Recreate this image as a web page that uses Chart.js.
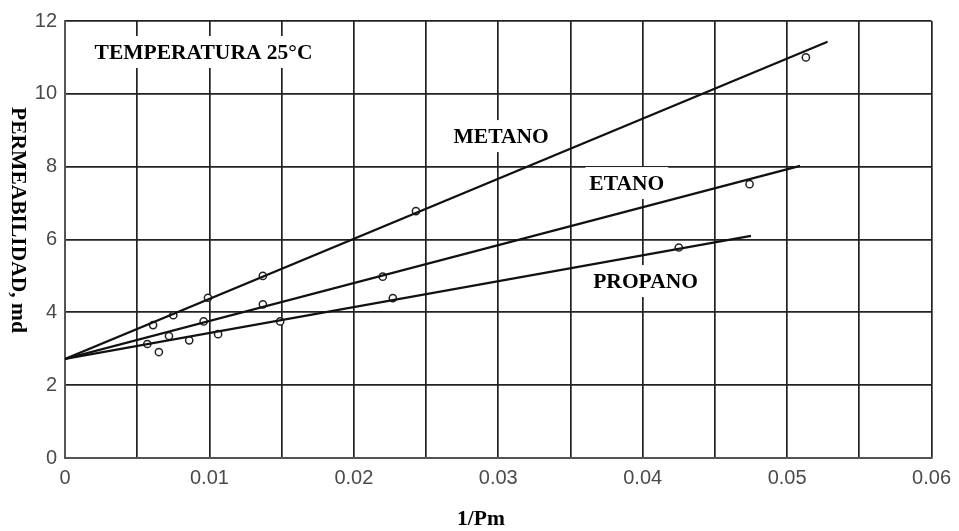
<!DOCTYPE html>
<html>
<head>
<meta charset="utf-8">
<script src="https://cdn.jsdelivr.net/npm/chart.js@4/dist/chart.umd.min.js"></script>
<style>
  html, body { margin: 0; padding: 0; background: #fff; }
  #box { width: 959px; height: 531px; }
</style>
</head>
<body>
<div id="box"><canvas id="grafico"></canvas></div>
<script>
// Puntos medidos (1/Pm, permeabilidad en md)
const metanoX = [0.0061, 0.0075, 0.0099, 0.0137, 0.0243, 0.0513];
const metanoY = [3.65, 3.92, 4.4, 5.0, 6.78, 11.0];
const etanoX = [0.0072, 0.0096, 0.0137, 0.022, 0.0474];
const etanoY = [3.35, 3.75, 4.22, 4.98, 7.52];
const propanoX = [0.0057, 0.0065, 0.0086, 0.0106, 0.0149, 0.0227, 0.0425];
const propanoY = [3.13, 2.91, 3.23, 3.4, 3.75, 4.39, 5.78];

// Rectas ajustadas (extremos)
const metanoRectaX = [0, 0.0528];
const metanoRectaY = [2.72, 11.43];
const etanoRectaX = [0, 0.0509];
const etanoRectaY = [2.72, 8.02];
const propanoRectaX = [0, 0.0475];
const propanoRectaY = [2.72, 6.1];

// Etiquetas dentro del grafico
const etiquetas = [
    { texto: 'TEMPERATURA 25°C', x: 0.00205, y: 11.15, alinear: 'left' },
    { texto: 'METANO', x: 0.0302, y: 8.84, alinear: 'center' },
    { texto: 'ETANO', x: 0.0389, y: 7.55, alinear: 'center' },
    { texto: 'PROPANO', x: 0.0402, y: 4.86, alinear: 'center' }
];

function pares(xs, ys) {
    return xs.map((x, i) => ({ x: x, y: ys[i] }));
}

function recta(xs, ys) {
    return {
        type: 'line',
        data: pares(xs, ys),
        borderColor: '#111',
        borderWidth: 2.3,
        pointRadius: 0,
        fill: false
    };
}

function puntos(xs, ys) {
    return {
        type: 'scatter',
        data: pares(xs, ys),
        borderColor: '#222',
        backgroundColor: '#fff',
        borderWidth: 1.5,
        pointRadius: 3.6
    };
}

const fuenteSerif = 'bold 21.5px "Liberation Serif", "Times New Roman", serif';

// Plugin para los textos
const textosPlugin = {
    id: 'textos',
    beforeDatasetsDraw(chart) {
        const ctx = chart.ctx;
        const sx = chart.scales.x;
        const sy = chart.scales.y;
        ctx.save();
        ctx.font = fuenteSerif;
        ctx.textBaseline = 'middle';
        etiquetas.forEach(e => {
            const px = sx.getPixelForValue(e.x);
            const py = sy.getPixelForValue(e.y);
            const w = ctx.measureText(e.texto).width;
            const x0 = e.alinear === 'left' ? px : px - w / 2;
            ctx.fillStyle = '#fff';
            ctx.fillRect(x0 - 4, py - 16, w + 8, 32);
            ctx.fillStyle = '#000';
            ctx.textAlign = e.alinear;
            ctx.fillText(e.texto, px, py + 1);
        });
        ctx.restore();
    },
    afterDraw(chart) {
        const ctx = chart.ctx;
        ctx.save();
        ctx.font = fuenteSerif;
        ctx.fillStyle = '#000';
        ctx.textAlign = 'center';
        ctx.textBaseline = 'middle';
        ctx.fillText('1/Pm', 481, 519);
        ctx.translate(18, 220);
        ctx.rotate(Math.PI / 2);
        ctx.fillText('PERMEABILIDAD, md', 0, 0);
        ctx.restore();
    }
};

const ctxGrafico = document.getElementById('grafico').getContext('2d');
new Chart(ctxGrafico, {
    data: {
        datasets: [
            recta(metanoRectaX, metanoRectaY),
            recta(etanoRectaX, etanoRectaY),
            recta(propanoRectaX, propanoRectaY),
            puntos(metanoX, metanoY),
            puntos(etanoX, etanoY),
            puntos(propanoX, propanoY)
        ]
    },
    options: {
        responsive: true,
        maintainAspectRatio: false,
        animation: false,
        layout: { padding: { top: 21, right: 25, left: 0, bottom: 0 } },
        plugins: {
            legend: { display: false },
            tooltip: { enabled: false }
        },
        scales: {
            x: {
                type: 'linear',
                min: 0,
                max: 0.06,
                afterFit: function (scale) { scale.height = 73; },
                border: { color: '#555', width: 2 },
                grid: { color: '#222', lineWidth: 1.7, drawTicks: false },
                ticks: {
                    stepSize: 0.005,
                    padding: 8,
                    color: '#4a4a4a',
                    font: { family: '"Liberation Sans", Arial, sans-serif', size: 20 },
                    callback: function (v) {
                        if (Math.round(v * 1000) % 10 !== 0) return '';
                        return String(Number(v.toFixed(2)));
                    }
                }
            },
            y: {
                type: 'linear',
                min: 0,
                max: 12,
                afterFit: function (scale) { scale.width = 65; },
                border: { color: '#555', width: 2 },
                grid: { color: '#222', lineWidth: 1.7, drawTicks: false },
                ticks: {
                    stepSize: 2,
                    padding: 8,
                    color: '#4a4a4a',
                    font: { family: '"Liberation Sans", Arial, sans-serif', size: 20 }
                }
            }
        }
    },
    plugins: [textosPlugin]
});
</script>
</body>
</html>
